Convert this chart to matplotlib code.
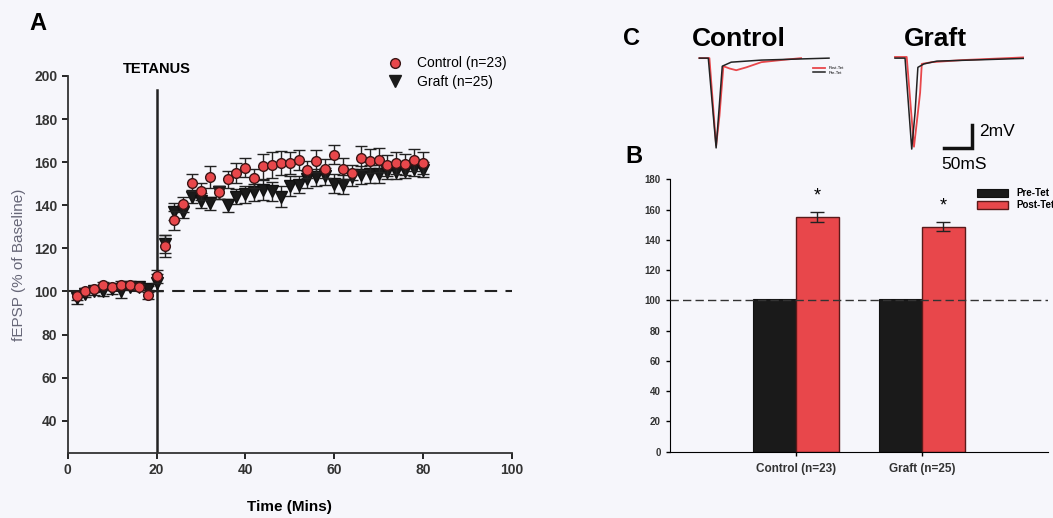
import matplotlib.pyplot as plt
from matplotlib.lines import Line2D
import numpy as np

plt.rcParams['font.family'] = ['Liberation Sans', 'DejaVu Sans']

# ---- panel A: time course ----
time_min = [2, 4, 6, 8, 10, 12, 14, 16, 18, 20, 22, 24, 26, 28, 30, 32, 34, 36, 38, 40,
            42, 44, 46, 48, 50, 52, 54, 56, 58, 60, 62, 64, 66, 68, 70, 72, 74, 76, 78, 80]
control_mean = [98, 100, 101, 103, 102, 103, 103, 102, 98.5, 107, 121, 133, 140.5, 150.5, 146.5,
                153, 146, 152, 155, 157.5, 152.5, 158, 158.5, 159.5, 159.5, 161, 156.5, 160.5,
                157, 163.5, 157, 155, 162, 160.5, 161, 158.5, 159.5, 159, 161, 159.5]
control_sem = [2, 1.5, 1.5, 1.5, 1.5, 2, 1.5, 1.5, 2, 3, 5, 4.5, 3.5, 4, 4, 5, 3, 4, 4.5, 4.5,
               4.5, 6, 6, 5.5, 5, 4.5, 4, 5, 4.5, 4.5, 5, 3.5, 5.5, 5.5, 5.5, 5, 5, 5, 5, 5]
graft_mean = [97, 99, 100, 100, 101, 100, 102, 102, 101, 104, 122, 137, 137, 144, 142, 141, 146,
              140, 144, 145, 146, 147, 146.5, 144, 149, 149.5, 152, 153, 153.5, 150, 149.5, 153,
              154, 154.5, 154.5, 155.5, 155.5, 156, 157, 156.5]
graft_sem = [3, 1.5, 1.5, 2, 2, 3, 1.5, 1.5, 1.5, 4, 4, 4, 3, 3, 3.5, 3, 3, 3, 3.5, 4,
             4, 4.5, 4.5, 5, 4.5, 4, 4, 4, 4, 4.5, 4.5, 4, 4, 4, 4, 3.5, 3.5, 3.5, 3.5, 3.5]

# ---- panel B: bars ----
groups = ['Control (n=23)', 'Graft (n=25)']
pre_tet = [101, 101]
post_tet = [155, 148.5]
post_sem = [3.5, 3]

# ---- panel C: example traces (ms, mV relative to baseline) ----
ctrl_pre_t = [0, 16, 30, 41, 57, 111, 232]
ctrl_pre_v = [0, 0, -7.8, -0.7, -0.35, -0.17, 0]
ctrl_post_t = [0, 18, 30, 36, 43, 54, 66, 84, 111, 146, 182]
ctrl_post_v = [0, 0, -7.6, -5, -0.7, -0.9, -1.05, -0.8, -0.35, -0.17, 0]
graft_pre_t = [0, 18, 30, 36, 41, 52, 75, 248]
graft_pre_v = [0, 0, -7.9, -4.7, -0.8, -0.5, -0.26, 0]
graft_post_t = [0, 21, 34, 39, 45, 48, 66, 120, 248]
graft_post_v = [0.1, 0.1, -7.7, -5.6, -3, -0.5, -0.35, -0.17, 0.1]

bg = '#f6f6fb'
red = '#e8474b'
fig = plt.figure(figsize=(10.53, 5.18), dpi=100, facecolor=bg)

# Panel A
ax = fig.add_axes([0.0643, 0.1255, 0.4217, 0.7278], facecolor=bg)
ax.axhline(100, color='#222222', lw=1.5, ls=(0, (6, 4)), zorder=1)
ax.plot([20, 20], [25, 193.5], color='#222222', lw=1.8, zorder=2)
ax.errorbar(time_min, graft_mean, yerr=graft_sem, fmt='v', color='#1a1a1a', ms=8,
            mec='#111111', ecolor='#222222', elinewidth=1, capsize=4, capthick=1, zorder=3)
ax.errorbar(time_min, control_mean, yerr=control_sem, fmt='o', mfc=red, mec='#3a1515', ms=7,
            mew=1, ecolor='#222222', elinewidth=1, capsize=4, capthick=1, zorder=4)
ax.set_xlim(0, 100)
ax.set_ylim(25, 200)
ax.set_xticks([0, 20, 40, 60, 80, 100])
ax.set_yticks([40, 60, 80, 100, 120, 140, 160, 180, 200])
ax.spines['top'].set_visible(False)
ax.spines['right'].set_visible(False)
for s in ['left', 'bottom']:
    ax.spines[s].set_linewidth(1.3)
    ax.spines[s].set_color('#333333')
ax.tick_params(direction='out', length=4, width=1.2, labelsize=10)
for lab in ax.get_xticklabels() + ax.get_yticklabels():
    lab.set_fontweight('bold')
    lab.set_color('#333333')
ax.set_xlabel('Time (Mins)', fontsize=11, fontweight='bold', labelpad=16)
ax.set_ylabel('fEPSP (% of Baseline)', fontsize=11, color='#666677', labelpad=6)
ax.text(20, 200, 'TETANUS', ha='center', va='bottom', fontsize=10.5, fontweight='bold')
leg_handles = [Line2D([], [], ls='none', marker='o', mfc=red, mec='#3a1515', ms=7),
               Line2D([], [], ls='none', marker='v', color='#1a1a1a', ms=8)]
ax.legend(leg_handles, ['Control (n=23)', 'Graft (n=25)'], loc='upper left',
          bbox_to_anchor=(0.677, 1.085), frameon=False, fontsize=10, handletextpad=0.6,
          labelspacing=0.35)
fig.text(0.028, 0.955, 'A', fontsize=17, fontweight='bold', va='center')

# Panel B
bx = fig.add_axes([0.6363, 0.128, 0.359, 0.526], facecolor=bg)
pos = np.arange(1, len(groups) + 1)
w = 0.34
bx.bar(pos - w, pre_tet, width=w, align='edge', color='#1a1a1a', edgecolor='#111111',
       lw=0.8, label='Pre-Tet', zorder=2)
bx.bar(pos, post_tet, width=w, align='edge', color=red, edgecolor='#5a1a1a', lw=1,
       yerr=post_sem, error_kw=dict(ecolor='#222222', elinewidth=1, capsize=5, capthick=1),
       label='Post-Tet', zorder=2)
for p, v, e in zip(pos, post_tet, post_sem):
    bx.text(p + w / 2, v + e + 5, '*', ha='center', va='bottom', fontsize=13)
bx.axhline(100, color='#333333', lw=1, ls=(0, (6, 3)), zorder=3)
bx.set_xlim(0, 3)
bx.set_ylim(0, 180)
bx.set_yticks(range(0, 181, 20))
bx.set_xticks(pos)
bx.set_xticklabels(groups)
bx.spines['top'].set_visible(False)
bx.spines['right'].set_visible(False)
bx.tick_params(direction='out', length=3, width=1, labelsize=7)
bx.tick_params(axis='x', labelsize=8.5, pad=5)
for lab in bx.get_xticklabels() + bx.get_yticklabels():
    lab.set_fontweight('bold')
    lab.set_color('#333333')
bx.legend(loc='upper right', bbox_to_anchor=(1.04, 1.0), frameon=False,
          handlelength=3.2, handleheight=0.9, labelspacing=0.2, prop={'weight': 'bold', 'size': 7})
fig.text(0.594, 0.698, 'B', fontsize=17, fontweight='bold', va='center')

# Panel C
cx = fig.add_axes([0.627, 0.65, 0.345, 0.28], facecolor='none')
offset = 350
cx.plot(ctrl_post_t, ctrl_post_v, color=red, lw=1.3, label='Post-Tet')
cx.plot(ctrl_pre_t, ctrl_pre_v, color='#222222', lw=1.1, label='Pre-Tet')
cx.plot(np.array(graft_post_t) + offset, graft_post_v, color=red, lw=1.3)
cx.plot(np.array(graft_pre_t) + offset, graft_pre_v, color='#222222', lw=1.1)
# scale bar: 50 ms x 2 mV
cx.plot([437, 487, 487], [-7.8, -7.8, -5.8], color='#111111', lw=2.5, solid_joinstyle='miter')
cx.text(500, -6.4, '2mV', fontsize=12.5, va='center')
cx.text(433, -9.2, '50mS', fontsize=12.5, va='center')
cx.set_xlim(-70, 580)
cx.set_ylim(-10.7, 1.9)
cx.axis('off')
cx.legend(loc='upper left', bbox_to_anchor=(0.41, 0.82), frameon=False, fontsize=3,
          handlelength=3, labelspacing=0.2)
fig.text(0.592, 0.925, 'C', fontsize=17, fontweight='bold', va='center')
fig.text(0.657, 0.925, 'Control', fontsize=19, fontweight='bold', va='center')
fig.text(0.858, 0.925, 'Graft', fontsize=19, fontweight='bold', va='center')

fig.savefig('out.png', dpi=100, facecolor=bg)
